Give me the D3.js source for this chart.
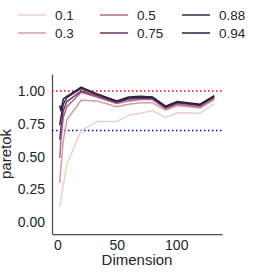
<!DOCTYPE html>
<html>
<head>
<meta charset="utf-8">
<script src="https://cdn.jsdelivr.net/npm/d3@7"></script>
<style>
  body { margin: 0; background: #fff; }
  svg { display: block; font-family: "Liberation Sans", Arial, sans-serif; }
</style>
</head>
<body>
<svg width="266" height="273"></svg>
<script>
// dimensions on the x axis
const dims = [2, 3, 5, 8, 20, 33, 50, 60, 70, 80, 91, 101, 120, 132];
// hue levels
const levels = [0.1, 0.3, 0.5, 0.75, 0.88, 0.94];
// paretok per level, one value per dimension
const k010 = [0.115, 0.17, 0.28, 0.44, 0.70, 0.765, 0.77, 0.815, 0.83, 0.85, 0.80, 0.835, 0.83, 0.905];
const k030 = [0.30, 0.42, 0.62, 0.78, 0.93, 0.925, 0.88, 0.90, 0.91, 0.91, 0.855, 0.89, 0.87, 0.935];
const k050 = [0.49, 0.62, 0.80, 0.88, 0.99, 0.955, 0.905, 0.925, 0.935, 0.935, 0.865, 0.90, 0.88, 0.945];
const k075 = [0.63, 0.72, 0.85, 0.92, 1.00, 0.965, 0.915, 0.94, 0.945, 0.945, 0.875, 0.91, 0.89, 0.955];
const k088 = [0.74, 0.80, 0.90, 0.95, 1.02, 0.975, 0.92, 0.945, 0.955, 0.95, 0.88, 0.915, 0.895, 0.96];
const k094 = [0.89, 0.85, 0.94, 0.96, 1.03, 0.98, 0.925, 0.955, 0.96, 0.955, 0.885, 0.92, 0.90, 0.965];
const series = [k010, k030, k050, k075, k088, k094];
const refLines = [{ v: 1.0, color: '#ff0000' }, { v: 0.7, color: '#0000ff' }];
const yTicks = [0, 0.25, 0.5, 0.75, 1.0];
const xTicks = [0, 50, 100];

const svg = d3.select('svg');
const margin = { top: 74, right: 44, bottom: 39, left: 52 };
const width = 266, height = 273;
const innerWidth = width - margin.left - margin.right;
const innerHeight = height - margin.top - margin.bottom;
const textColor = '#262626';

const xScale = d3.scaleLinear().domain([-4.5, 138.5]).range([0, innerWidth]);
const yScale = d3.scaleLinear().domain([-0.09, 1.13]).range([innerHeight, 0]);

// seaborn default cubehelix ramp
const ramp = d3.scaleLinear()
    .domain([0, 1/7, 2/7, 3/7, 4/7, 5/7, 6/7, 1])
    .range(['#edd1cb', '#e1b1b1', '#d08f9f', '#b8708f', '#99557f', '#763e6c', '#512b55', '#2d1e3e'])
    .interpolate(d3.interpolateRgb);
const hue = d3.scaleLinear().domain(d3.extent(levels)).range([0, 1]);
const color = l => ramp(hue(l));

const g = svg.append('g').attr('transform', `translate(${margin.left},${margin.top})`);

const yAxis = d3.axisLeft(yScale).tickValues(yTicks).tickFormat(d3.format('.2f')).tickSize(0).tickPadding(7);
const yAxisG = g.append('g').call(yAxis).attr('font-family', null).attr('font-size', null);
yAxisG.select('.domain').attr('stroke', '#4d4d4d').attr('stroke-width', 1.25);
yAxisG.selectAll('text').attr('font-size', 14).attr('fill', textColor);

const xAxis = d3.axisBottom(xScale).tickValues(xTicks).tickSize(0).tickPadding(6);
const xAxisG = g.append('g').attr('transform', `translate(0,${innerHeight})`).call(xAxis)
    .attr('font-family', null).attr('font-size', null);
xAxisG.select('.domain').attr('stroke', '#4d4d4d').attr('stroke-width', 1.25);
xAxisG.selectAll('text').attr('font-size', 14).attr('fill', textColor);

g.append('text')
    .attr('x', innerWidth / 2)
    .attr('y', innerHeight + 31)
    .attr('text-anchor', 'middle')
    .attr('font-size', 15)
    .attr('fill', textColor)
    .text('Dimension');

g.append('text')
    .attr('transform', 'rotate(-90)')
    .attr('x', -innerHeight / 2)
    .attr('y', -41)
    .attr('text-anchor', 'middle')
    .attr('font-size', 15)
    .attr('fill', textColor)
    .text('paretok');

// reference lines
refLines.forEach(r => {
    g.append('line')
        .attr('x1', 0).attr('x2', innerWidth)
        .attr('y1', yScale(r.v)).attr('y2', yScale(r.v))
        .attr('stroke', r.color)
        .attr('stroke-width', 1.5)
        .attr('stroke-dasharray', '1.5,2.5');
});

const line = d3.line()
    .x((d, i) => xScale(dims[i]))
    .y(d => yScale(d));

series.forEach((s, i) => {
    g.append('path')
        .attr('d', line(s))
        .attr('fill', 'none')
        .attr('stroke', color(levels[i]))
        .attr('stroke-width', 1.5)
        .attr('stroke-linejoin', 'round');
});

// legend: 2 rows x 3 columns, column-major
const legend = svg.append('g');
levels.forEach((l, i) => {
    const col = Math.floor(i / 2), row = i % 2;
    const x0 = 18 + col * 82, y0 = 15 + row * 18;
    legend.append('line')
        .attr('x1', x0).attr('x2', x0 + 28)
        .attr('y1', y0).attr('y2', y0)
        .attr('stroke', color(l))
        .attr('stroke-width', 1.5);
    legend.append('text')
        .attr('x', x0 + 37)
        .attr('y', y0)
        .attr('dy', '0.35em')
        .attr('font-size', 13.5)
        .attr('fill', textColor)
        .text(l);
});
</script>
</body>
</html>
